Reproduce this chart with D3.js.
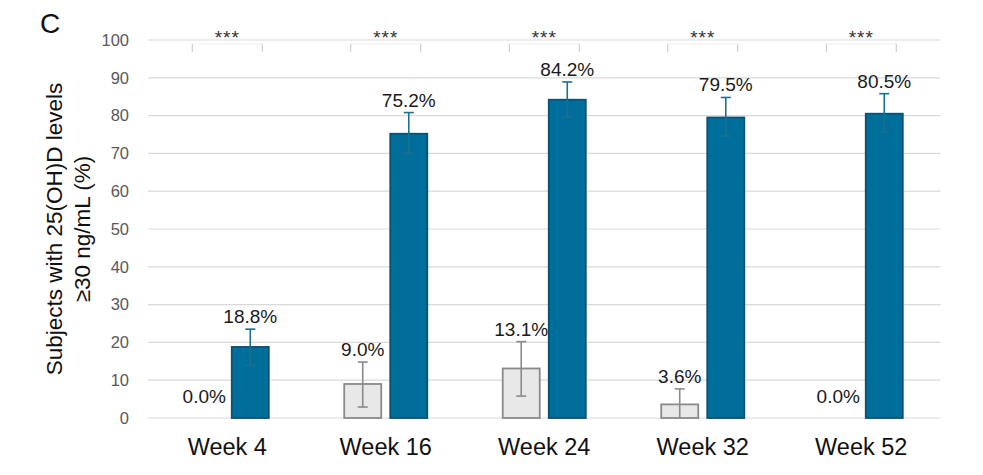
<!DOCTYPE html>
<html>
<head>
<meta charset="utf-8">
<script src="https://cdn.jsdelivr.net/npm/d3@7"></script>
<style>
  html, body { margin: 0; padding: 0; background: #fff; }
  svg { display: block; font-family: "Liberation Sans", Arial, sans-serif; }
</style>
</head>
<body>
<svg id="chart" width="983" height="475"></svg>
<script>
const weeks       = ["Week 4", "Week 16", "Week 24", "Week 32", "Week 52"];
const controlPct  = [0, 9.0, 13.1, 3.6, 0];
const controlLow  = [0, 2.9, 5.8, 0, 0];
const controlHigh = [0, 14.8, 20.2, 7.7, 0];
const treatPct    = [18.8, 75.2, 84.2, 79.5, 80.5];
const treatLow    = [14.0, 70.0, 79.7, 74.6, 75.7];
const treatHigh   = [23.5, 80.8, 88.9, 84.8, 85.8];
const sigMarks    = ["***", "***", "***", "***", "***"];
const yTicks      = [0, 10, 20, 30, 40, 50, 60, 70, 80, 90, 100];
const groups      = ["control", "treatment"];

const style = {
  control:   { fill: "#e8e8e8", stroke: "#8a8a8a", err: "#8a8a8a" },
  treatment: { fill: "#006e9b", stroke: "#0a5272", err: "#1b6f8f" }
};

const svg = d3.select("#chart");
const plot = { left: 148, right: 940.5, top: 40, bottom: 418 };

const x0 = d3.scaleBand().domain(weeks).range([plot.left, plot.right])
  .paddingInner(0.476).paddingOuter(0.238);
const x1 = d3.scaleBand().domain(groups).range([0, x0.bandwidth()])
  .paddingInner(0.196);
const y = d3.scaleLinear().domain([0, 100]).range([plot.bottom, plot.top]);

// flatten into one record per bar
const bars = [];
weeks.forEach((w, i) => {
  bars.push({ week: w, g: "control", v: controlPct[i], lo: controlLow[i], hi: controlHigh[i] });
  bars.push({ week: w, g: "treatment", v: treatPct[i], lo: treatLow[i], hi: treatHigh[i] });
});

// gridlines
svg.append("g")
  .selectAll("line")
  .data(yTicks)
  .join("line")
  .attr("x1", plot.left).attr("x2", plot.right)
  .attr("y1", d => y(d)).attr("y2", d => y(d))
  .attr("stroke", "#d9d9d9")
  .attr("stroke-width", 1.2);

// y axis labels
const yAxis = d3.axisLeft(y).tickValues(yTicks).tickSize(0).tickPadding(0);
svg.append("g")
  .attr("transform", `translate(${plot.left - 19},0)`)
  .call(yAxis)
  .call(g => g.select(".domain").remove())
  .selectAll("text")
  .attr("font-size", 16.5)
  .attr("font-family", "'Liberation Sans', Arial, sans-serif")
  .attr("fill", "#595959");

// x axis labels
const xAxis = d3.axisBottom(x0).tickSize(0).tickPadding(0);
svg.append("g")
  .attr("transform", `translate(0,${plot.bottom + 20})`)
  .call(xAxis)
  .call(g => g.select(".domain").remove())
  .selectAll("text")
  .attr("font-size", 23.5)
  .attr("font-family", "'Liberation Sans', Arial, sans-serif")
  .attr("fill", "#111");

// bars
svg.append("g")
  .selectAll("rect")
  .data(bars.filter(d => d.v > 0))
  .join("rect")
  .attr("x", d => x0(d.week) + x1(d.g))
  .attr("y", d => y(d.v))
  .attr("width", x1.bandwidth())
  .attr("height", d => y(0) - y(d.v))
  .attr("fill", d => style[d.g].fill)
  .attr("stroke", d => style[d.g].stroke)
  .attr("stroke-width", 1.8);

// error bars
const cx = d => x0(d.week) + x1(d.g) + x1.bandwidth() / 2;
const eb = svg.append("g")
  .selectAll("g")
  .data(bars.filter(d => d.hi > d.lo))
  .join("g")
  .attr("stroke", d => style[d.g].err)
  .attr("stroke-width", 1.6);
eb.append("line")
  .attr("x1", cx).attr("x2", cx)
  .attr("y1", d => y(d.lo)).attr("y2", d => y(d.hi));
eb.append("line")
  .attr("x1", d => cx(d) - 5).attr("x2", d => cx(d) + 5)
  .attr("y1", d => y(d.hi)).attr("y2", d => y(d.hi));
eb.filter(d => d.lo > 0).append("line")
  .attr("x1", d => cx(d) - 5).attr("x2", d => cx(d) + 5)
  .attr("y1", d => y(d.lo)).attr("y2", d => y(d.lo));

// value labels
svg.append("g")
  .selectAll("text")
  .data(bars)
  .join("text")
  .attr("x", cx)
  .attr("y", d => Math.min(y(d.hi) - 6, y(0) - 15))
  .attr("text-anchor", "middle")
  .attr("font-size", 19)
  .attr("fill", "#1a1a1a")
  .text(d => d.v.toFixed(1) + "%");

// significance brackets
const sig = svg.append("g")
  .selectAll("g")
  .data(weeks)
  .join("g")
  .attr("transform", d => `translate(${x0(d) + x0.bandwidth() / 2},0)`);
sig.append("path")
  .attr("d", "M-35,44H35")
  .attr("stroke", "#eeeeee")
  .attr("stroke-width", 1);
sig.append("path")
  .attr("d", "M-35,44V52M35,44V52")
  .attr("stroke", "#c4c4c4")
  .attr("stroke-width", 1);
sig.append("text")
  .attr("y", 44)
  .attr("text-anchor", "middle")
  .attr("font-size", 19)
  .attr("letter-spacing", 1)
  .attr("fill", "#333")
  .text((d, i) => sigMarks[i]);

// y axis title
svg.append("text")
  .attr("transform", `translate(62,${(plot.top + plot.bottom) / 2}) rotate(-90)`)
  .attr("text-anchor", "middle")
  .attr("font-size", 22.5)
  .attr("fill", "#111")
  .selectAll("tspan")
  .data(["Subjects with 25(OH)D levels", "≥30 ng/mL (%)"])
  .join("tspan")
  .attr("x", 0)
  .attr("dy", (d, i) => i ? 28 : 0)
  .text(d => d);

// panel letter
svg.append("text")
  .attr("x", 40).attr("y", 33)
  .attr("font-size", 28)
  .attr("fill", "#111")
  .text("C");
</script>
</body>
</html>
